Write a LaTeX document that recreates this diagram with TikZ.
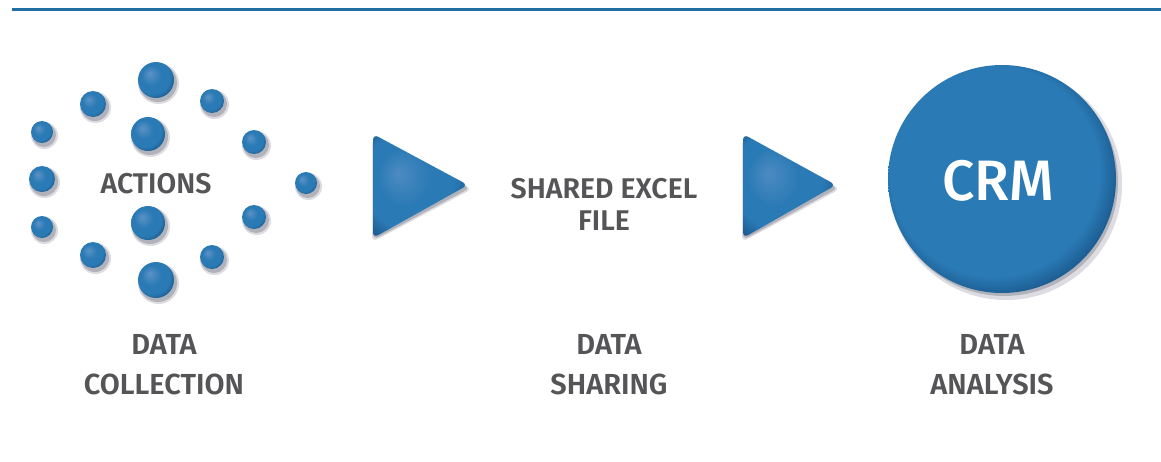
\documentclass[tikz,border=0pt]{standalone}
\usepackage{fontspec}
\setmainfont{Fira Sans}
\newfontfamily\lblfont{Fira Sans SemiBold}
\newfontfamily\crmfont{Fira Sans Medium}
\definecolor{blueL}{RGB}{92,146,198}
\definecolor{blueM}{RGB}{42,122,181}
\definecolor{blueD}{RGB}{24,84,136}
\definecolor{lineblue}{RGB}{31,111,163}
\definecolor{txtgray}{RGB}{85,85,88}
\definecolor{shadowc}{RGB}{178,178,186}
\definecolor{shadowl}{RGB}{220,220,226}
\pgfdeclareradialshading{dotshade}{\pgfpoint{-9bp}{9bp}}{color(0bp)=(blueL); color(14bp)=(blueM); color(24bp)=(blueM); color(32bp)=(blueD); color(50bp)=(blueD)}
\pgfdeclareradialshading{crmshade}{\pgfpoint{-3bp}{3bp}}{color(0bp)=(blueM); color(23bp)=(blueM); color(28bp)=(blueD); color(50bp)=(blueD)}
\pgfdeclareradialshading{trishade}{\pgfpoint{-12bp}{6bp}}{color(0bp)=(blueL!70!blueM); color(14bp)=(blueM); color(24bp)=(blueM); color(34bp)=(blueD); color(50bp)=(blueD)}
\tikzset{
  topline/.style={draw=lineblue,line width=3pt},
  dotball/.style={circle,inner sep=0pt,shading=dotshade},
  dotshadow/.style={fill=shadowc},
  dotshadowsoft/.style={fill=shadowl},
  lbl/.style={font=\lblfont\fontsize{29}{40}\selectfont,text=txtgray,align=center,inner sep=0pt},
  midlbl/.style={font=\lblfont\fontsize{28.5}{32}\selectfont,text=txtgray,align=center,inner sep=0pt},
  crmtxt/.style={font=\crmfont\fontsize{57}{60}\selectfont,text=white,inner sep=0pt},
  tri/.style={shading=trishade,rounded corners=6pt},
  trishadow/.style={fill=shadowc,rounded corners=6pt},
}
\newcommand\mydot[4]{%
  \fill[dotshadowsoft] (#2+2.5,#3+3.5) circle[radius=#4pt+2.5pt];
  \fill[dotshadow] (#2+2,#3+3) circle[radius=#4pt+1pt];
  \node[dotball,minimum size=2*#4pt] (#1) at (#2,#3) {};}
\begin{document}
\begin{tikzpicture}[x=1pt,y=-1pt]
\useasboundingbox (0,0) rectangle (1161,461);
\fill[white] (0,0) rectangle (1161,461);
\coordinate (L1) at (12,9);
\coordinate (L2) at (1161,9);
\draw[topline] (L1) -- (L2);
% dots
\mydot{d1}{156}{80}{18}
\mydot{d2}{93}{104}{13}
\mydot{d3}{212}{101}{12}
\mydot{d4}{42}{132}{11}
\mydot{d5}{148}{134}{17}
\mydot{d6}{254}{142}{12}
\mydot{d7}{42}{179}{13}
\mydot{d8}{306}{183}{11}
\mydot{d9}{42}{227}{11}
\mydot{d10}{148}{223}{17}
\mydot{d11}{254}{217}{12}
\mydot{d12}{93}{255}{13}
\mydot{d13}{212}{257}{12}
\mydot{d14}{156}{280}{18}
\node[midlbl] (actions) at (156,184) {ACTIONS};
% triangles
\fill[trishadow,fill=shadowl] (372,139) -- (372,242) -- (472,189) -- cycle;
\fill[trishadow] (373,138) -- (373,240) -- (470,188) -- cycle;
\shade[tri] (373,134) -- (373,238) -- (468,185) -- cycle;
\fill[trishadow,fill=shadowl] (742,139) -- (742,242) -- (840,189) -- cycle;
\fill[trishadow] (743,138) -- (743,240) -- (838,188) -- cycle;
\shade[tri] (743,134) -- (743,238) -- (836,185) -- cycle;
\node[midlbl] (excel) at (604,204) {SHARED EXCEL\\FILE};
% CRM
\fill[shadowl] (1006,184) circle[radius=116pt];
\fill[shadowc] (1004,182) circle[radius=114pt];
\node[circle,inner sep=0pt,minimum size=228pt,shading=crmshade] (crmc) at (1002,179) {};
\node[crmtxt] (crm) at (998,181) {CRM};
% bottom labels
\node[lbl] (dc) at (164,365) {DATA\\COLLECTION};
\node[lbl] (ds) at (609,365) {DATA\\SHARING};
\node[lbl] (da) at (992,365) {DATA\\ANALYSIS};
\end{tikzpicture}
\end{document}
